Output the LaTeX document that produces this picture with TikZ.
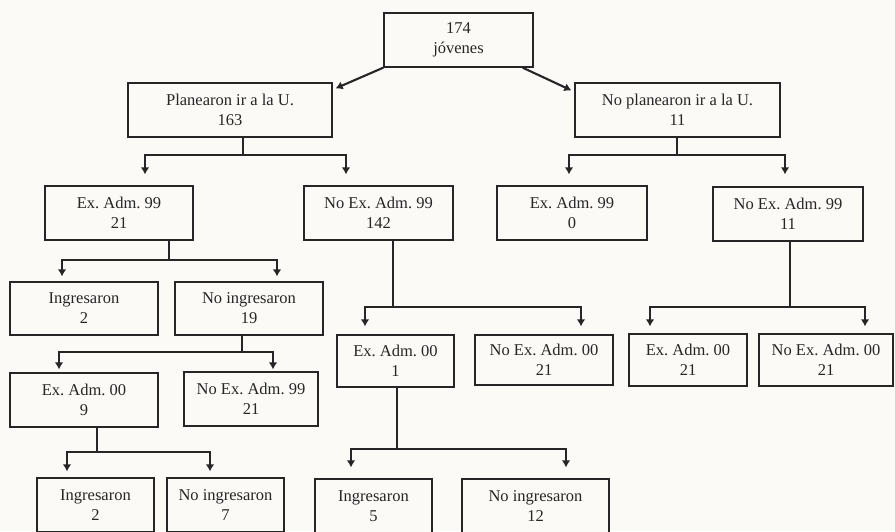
\documentclass[tikz,border=0pt]{standalone}
\usepackage{fontspec}
\setmainfont{Liberation Serif}
\usetikzlibrary{arrows.meta}
\definecolor{paper}{RGB}{251,250,246}
\definecolor{ink}{RGB}{38,38,38}
\frenchspacing

\begin{document}
\begin{tikzpicture}[x=1pt, y=-1pt, >={Latex[length=7pt,width=8.5pt]},
    every node/.style={font=\fontsize{16.5}{20}\selectfont, text=ink},
    box/.style={draw=ink, line width=1.3pt, fill=paper, align=center, minimum height=54pt, inner sep=0pt},
    link/.style={draw=ink, line width=2.1pt}]
    \fill[paper, use as bounding box] (0,0) rectangle (895,531);
    \clip (0,0) rectangle (895,531);

    % first levels
    \node (top)     [box, minimum width=149pt] at (458.5,40)  {174\\ jóvenes};
    \node (plan)    [box, minimum width=204pt] at (230,110)   {Planearon ir a la U.\\ 163};
    \node (noplan)  [box, minimum width=205pt] at (677.5,110) {No planearon ir a la U.\\ 11};
    \node (ex99a)   [box, minimum width=148pt] at (119,213)   {Ex. Adm. 99\\ 21};
    \node (noex99a) [box, minimum width=149pt] at (378.5,213) {No Ex. Adm. 99\\ 142};
    \node (ex99b)   [box, minimum width=150pt] at (572,213)   {Ex. Adm. 99\\ 0};
    \node (noex99b) [box, minimum width=150pt] at (788,214)   {No Ex. Adm. 99\\ 11};
    % left side
    \node (ingA)    [box, minimum width=148pt, minimum height=53pt] at (84,308.5)  {Ingresaron\\ 2};
    \node (noingA)  [box, minimum width=148pt, minimum height=53pt] at (249,308.5) {No ingresaron\\ 19};
    \node (ex00a)   [box, minimum width=148pt] at (84,400)    {Ex. Adm. 00\\ 9};
    \node (noex99c) [box, minimum width=134pt] at (251,399)   {No Ex. Adm. 99\\ 21};
    \node (ingB)    [box, minimum width=117pt] at (95.5,505)  {Ingresaron\\ 2};
    \node (noingB)  [box, minimum width=117pt] at (225.5,505) {No ingresaron\\ 7};
    % middle and right side
    \node (ex00b)   [box, minimum width=117pt, minimum height=52pt] at (395.5,361) {Ex. Adm. 00\\ 1};
    \node (noex00b) [box, minimum width=138pt, minimum height=50pt] at (544,360)   {No Ex. Adm. 00\\ 21};
    \node (ex00c)   [box, minimum width=118pt, minimum height=52pt] at (688,360)   {Ex. Adm. 00\\ 21};
    \node (noex00c) [box, minimum width=134pt, minimum height=52pt] at (826,360)   {No Ex. Adm. 00\\ 21};
    \node (ingC)    [box, minimum width=117pt] at (373.5,506)  {Ingresaron\\ 5};
    \node (noingC)  [box, minimum width=147pt] at (535.5,506)  {No ingresaron\\ 12};

    % junctions
    \coordinate (b1) at (243,155);
    \coordinate (b2) at (677,155);
    \coordinate (b3) at (169,260);
    \coordinate (b4) at (242,352);
    \coordinate (b5) at (97,452);
    \coordinate (b6) at (393,307);
    \coordinate (b7) at (397,449);
    \coordinate (b8) at (790,307);

    \draw[link,->] (top.south west) -- ([xshift=3pt,yshift=-6pt]plan.north east);
    \draw[link,->] ([xshift=-11pt]top.south east) -- ([xshift=-3pt,yshift=-8pt]noplan.north west);

    \draw[link] (plan.south -| b1) -- (b1);
    \draw[link,->] (b1) -| ([xshift=26pt,yshift=11pt]ex99a.north);
    \draw[link,->] (b1) -| ([xshift=-32.5pt,yshift=11pt]noex99a.north);

    \draw[link] (noplan.south -| b2) -- (b2);
    \draw[link,->] (b2) -| ([xshift=-3pt,yshift=11pt]ex99b.north);
    \draw[link,->] (b2) -| ([xshift=-3pt,yshift=12pt]noex99b.north);

    \draw[link] (ex99a.south -| b3) -- (b3);
    \draw[link,->] (b3) -| ([xshift=-22pt,yshift=5pt]ingA.north);
    \draw[link,->] (b3) -| ([xshift=28pt,yshift=5pt]noingA.north);

    \draw[link] (noingA.south -| b4) -- (b4);
    \draw[link,->] (b4) -| ([xshift=-25pt,yshift=3pt]ex00a.north);
    \draw[link,->] (b4) -| ([xshift=22pt,yshift=2pt]noex99c.north);

    \draw[link] (ex00a.south -| b5) -- (b5);
    \draw[link,->] (b5) -| ([xshift=-28.5pt,yshift=6pt]ingB.north);
    \draw[link,->] (b5) -| ([xshift=-15.5pt,yshift=6pt]noingB.north);

    \draw[link] (noex99a.south -| b6) -- (b6);
    \draw[link,->] (b6) -| ([xshift=-30.5pt,yshift=8pt]ex00b.north);
    \draw[link,->] (b6) -| ([xshift=37pt,yshift=8pt]noex00b.north);

    \draw[link] (ex00b.south -| b7) -- (b7);
    \draw[link,->] (b7) -| ([xshift=-22.5pt,yshift=11pt]ingC.north);
    \draw[link,->] (b7) -| ([xshift=30.5pt,yshift=11pt]noingC.north);

    \draw[link] (noex99b.south -| b8) -- (b8);
    \draw[link,->] (b8) -| ([xshift=-38pt,yshift=7pt]ex00c.north);
    \draw[link,->] (b8) -| ([xshift=39pt,yshift=7pt]noex00c.north);
\end{tikzpicture}
\end{document}
